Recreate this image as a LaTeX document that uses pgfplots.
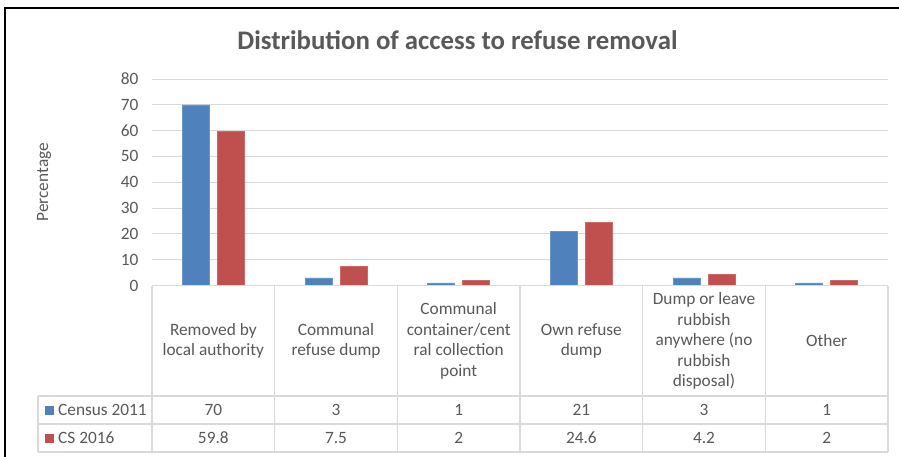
\documentclass[border=0pt]{standalone}
\usepackage{fontspec}
\setmainfont{Carlito}
\usepackage{pgfplots}
\pgfplotsset{compat=1.18}
\definecolor{census}{HTML}{4F81BD}
\definecolor{cs}{HTML}{C0504D}
\definecolor{txt}{HTML}{595959}
\definecolor{gridc}{HTML}{D9D9D9}

\newcommand{\lbl}{\fontsize{17.3}{20.5}\selectfont\color{txt}}

\begin{document}
\begin{tikzpicture}[x=1pt,y=1pt]
\useasboundingbox (0,0) rectangle (899,-457);
\fill[white] (0,0) rectangle (899,-457);

% frame (cropped: only top and left edges visible)
\draw[black, line width=2pt] (5,-457) -- (5,-8) -- (899,-8);

% title
\node[font=\fontsize{26.8}{32}\selectfont\bfseries, text=txt] at (457.5,-40) {Distribution of access to refuse removal};

\begin{axis}[
    at={(152pt,-285.5pt)}, anchor=south west,
    scale only axis, width=736pt, height=206.5pt,
    xmin=-0.5, xmax=5.5, ymin=0, ymax=80,
    ytick={0,10,...,80}, xtick=\empty,
    ymajorgrids, grid style={gridc, line width=1pt},
    axis line style={draw=none}, major tick length=0pt,
    yticklabel style={font=\lbl, xshift=-10pt},
    /pgf/number format/assume math mode=true,
    ylabel={Percentage},
    every axis y label/.style={at={(axis description cs:0,0.5)}, xshift=-108pt,
        rotate=90, anchor=center, font=\lbl},
    ybar=8pt, bar width=27pt,
    clip=false,
]
\addplot[fill=census, draw=census!85!white]
  coordinates {(0,70)(1,3)(2,1)(3,21)(4,3)(5,1)};
\addplot[fill=cs, draw=cs!85!white]
  coordinates {(0,59.8)(1,7.5)(2,2)(3,24.6)(4,4.2)(5,2)};
\end{axis}

% data table
\begin{scope}[gridc, line width=1.2pt]
\draw (152,-285.5) -- (888,-285.5);
\draw (38,-396) -- (888,-396);
\draw (38,-424) -- (888,-424);
\draw (38,-452) -- (888,-452);
\draw (38,-396) -- (38,-452);
\foreach \xx in {152,274.67,397.33,520,642.67,765.33,888}
  \draw (\xx,-285.5) -- (\xx,-452);
\end{scope}

\begin{scope}[every node/.style={font=\lbl, align=center, inner sep=0pt}]
\node at (213.33,-341) {Removed by\\local authority};
\node at (336,-341) {Communal\\refuse dump};
\node at (458.67,-341) {Communal\\container/cent\\ral collection\\point};
\node at (581.33,-341) {Own refuse\\dump};
\node at (704,-341) {Dump or leave\\rubbish\\anywhere (no\\rubbish\\disposal)};
\node at (826.67,-341) {Other};

\fill[census] (45,-405.5) rectangle (54,-414.5);
\fill[cs] (45,-433.5) rectangle (54,-442.5);
\node[anchor=west] at (58,-410) {Census 2011};
\node[anchor=west] at (58,-438) {CS 2016};

\node at (213.33,-410) {70};
\node at (336,-410) {3};
\node at (458.67,-410) {1};
\node at (581.33,-410) {21};
\node at (704,-410) {3};
\node at (826.67,-410) {1};

\node at (213.33,-438) {59.8};
\node at (336,-438) {7.5};
\node at (458.67,-438) {2};
\node at (581.33,-438) {24.6};
\node at (704,-438) {4.2};
\node at (826.67,-438) {2};
\end{scope}
\end{tikzpicture}
\end{document}
